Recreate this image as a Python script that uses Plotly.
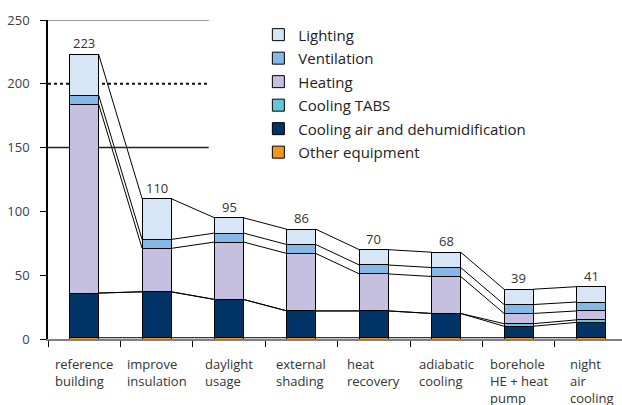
import plotly.graph_objects as go

# ---- data ----
categories = ["reference<br>building", "improve<br>insulation", "daylight<br>usage",
              "external<br>shading", "heat<br>recovery", "adiabatic<br>cooling",
              "borehole<br>HE + heat<br>pump", "night<br>air<br>cooling"]
other_equipment = [1, 1, 1, 1, 1, 1, 1, 1]
cooling_air = [35, 36, 30, 21, 21, 19, 9, 12]
cooling_tabs = [0, 0, 0, 0, 0, 0, 2, 2]
heating = [148, 34, 45, 45, 29, 29, 8, 7]
ventilation = [7, 7, 7, 7, 7, 7, 7, 7]
lighting = [32, 32, 12, 12, 12, 12, 12, 12]
y_ticks = [0, 50, 100, 150, 200, 250]
grid_levels = [150, 200, 250]
title_text = "Specific final energy demand [kWh/m²a]"

series = [
    ("Other equipment", other_equipment, "#F7941D"),
    ("Cooling air and dehumidification", cooling_air, "#003366"),
    ("Cooling TABS", cooling_tabs, "#66C6D9"),
    ("Heating", heating, "#C5BFE0"),
    ("Ventilation", ventilation, "#85B8E6"),
    ("Lighting", lighting, "#D6E6F7"),
]

n = len(categories)
xs = list(range(n))
bar_w = 0.4
font = "Open Sans"

fig = go.Figure()
for k, (name, vals, col) in enumerate(series):
    fig.add_trace(go.Bar(
        x=xs, y=vals, name=name, width=bar_w, legendgroup=name,
        legendrank=1000 - k,
        marker=dict(color=col, line=dict(color="#000000", width=1)),
        hoverinfo="skip",
    ))

# series lines connecting the tops of each stacked segment
cum = [0] * n
for name, vals, col in series:
    cum = [c + v for c, v in zip(cum, vals)]
    lx, ly = [], []
    for i in range(n - 1):
        lx += [i + bar_w / 2, i + 1 - bar_w / 2, None]
        ly += [cum[i], cum[i + 1], None]
    fig.add_trace(go.Scatter(x=lx, y=ly, mode="lines", showlegend=False,
                             line=dict(color="#000000", width=1), hoverinfo="skip"))

totals = cum

annotations = []
for i, t in enumerate(totals):
    annotations.append(dict(x=i, y=t, xref="x", yref="y", text=str(t), showarrow=False,
                            yanchor="bottom", yshift=0,
                            font=dict(family=font, size=13, color="#333333")))
for i, lab in enumerate(categories):
    annotations.append(dict(x=i, y=0, xref="x", yref="y", text=lab, showarrow=False,
                            yanchor="top", xanchor="center", align="left", yshift=-14,
                            font=dict(family=font, size=13, color="#333333")))
annotations.append(dict(x=-0.119, y=1.057, xref="paper", yref="paper", text=title_text,
                        showarrow=False, xanchor="left", yanchor="bottom",
                        font=dict(family=font, size=28, color="#333333")))

shapes = []
grid_styles = {150: ("#222222", "solid", 1.5), 200: ("#111111", "dot", 2), 250: ("#999999", "solid", 2)}
for g in grid_levels:
    c, d, w = grid_styles[g]
    shapes.append(dict(type="line", xref="x", yref="y", x0=-0.5, x1=1.72, y0=g, y1=g,
                       line=dict(color=c, dash=d, width=w), layer="below"))

fig.update_layout(
    width=622, height=405,
    margin=dict(l=48, r=0, t=20, b=66),
    barmode="stack",
    plot_bgcolor="white", paper_bgcolor="white",
    font=dict(family=font, size=13, color="#333333"),
    showlegend=True,
    legend=dict(x=0.3665, y=1.005, xanchor="left", yanchor="top",
                traceorder="grouped", tracegroupgap=1,
                font=dict(family=font, size=15, color="#222222"),
                bgcolor="rgba(255,255,255,0)"),
    annotations=annotations,
    shapes=shapes,
    xaxis=dict(range=[-0.5, -0.5 + 574 / 72.4], tickmode="array",
               tickvals=[i - 0.5 for i in range(n)], ticktext=[""] * n,
               ticks="outside", ticklen=6, tickcolor="#000000", tickwidth=1,
               showline=True, linecolor="#808080", linewidth=2,
               showgrid=False, zeroline=False, fixedrange=True),
    yaxis=dict(range=[0, 250], tickmode="array", tickvals=y_ticks,
               ticks="outside", ticklen=6, tickcolor="#000000", tickwidth=1,
               ticklabelstandoff=8,
               tickfont=dict(family=font, size=13, color="#404040"),
               showline=True, linecolor="#000000", linewidth=1.5,
               showgrid=False, zeroline=False, fixedrange=True),
)

fig.write_html("out.html", config={"displayModeBar": False},
               post_script="document.body.style.margin='0';")
